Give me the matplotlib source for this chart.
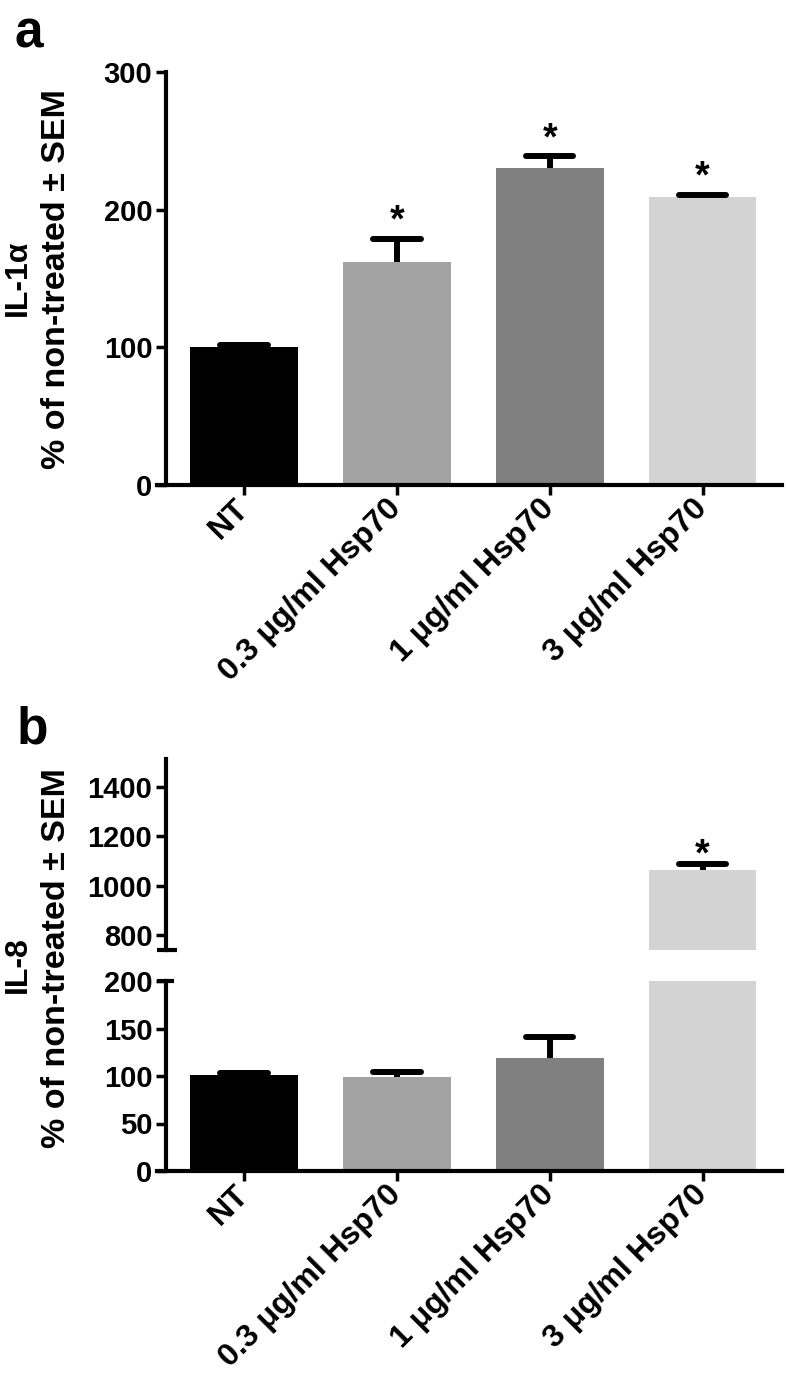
import numpy as np
import matplotlib
matplotlib.use("Agg")
import matplotlib.pyplot as plt

plt.rcParams['font.family'] = ['Liberation Sans', 'DejaVu Sans']
plt.rcParams['font.weight'] = 'bold'

groups = ["NT", "0.3 μg/ml Hsp70", "1 μg/ml Hsp70", "3 μg/ml Hsp70"]
colors = ["#000000", "#a3a3a3", "#808080", "#d3d3d3"]

# panel a: IL-1alpha
il1a_mean = [100, 162, 230, 209]
il1a_sem = [2, 17, 9, 2]
il1a_sig = [False, True, True, True]

# panel b: IL-8 (broken axis)
il8_mean = [101, 99, 119, 1063]
il8_sem = [2, 5, 22, 25]
il8_sig = [False, False, False, True]

W, H = 786, 1380
fig = plt.figure(figsize=(W / 100, H / 100), dpi=100)
x = np.arange(len(groups))


def px_axes(left, top, right, bottom):
    return fig.add_axes([left / W, 1 - bottom / H, (right - left) / W, (bottom - top) / H])


def style(ax, show_x=True):
    ax.set_xlim(-0.57, 3.52)
    for s in ['top', 'right']:
        ax.spines[s].set_visible(False)
    ax.spines['left'].set_position(('data', -0.51))
    ax.spines['left'].set_linewidth(3)
    ax.spines['bottom'].set_linewidth(3)
    ax.tick_params(axis='both', width=2.5, length=7, direction='out', labelsize=21, pad=3)
    if show_x:
        ax.set_xticks(x)
        ax.set_xticklabels(groups, rotation=45, ha='right', va='center',
                           rotation_mode='anchor', fontsize=23)
        ax.tick_params(axis='x', pad=7)
    else:
        ax.spines['bottom'].set_visible(False)
        ax.set_xticks([])


def draw_bars(ax, mean, sem):
    ax.bar(x, mean, width=0.706, color=colors, zorder=2)
    tops = np.array(mean) + np.array(sem)
    ax.vlines(x, mean, tops, colors='k', lw=4.3, capstyle='butt', zorder=3)
    ax.hlines(tops, x - 0.155, x + 0.155, colors='k', lw=4.3, capstyle='round', zorder=3)


def draw_stars(ax, mean, sem, sig, off):
    for i in range(len(groups)):
        if sig[i]:
            ax.annotate('*', (x[i], mean[i] + sem[i]), xytext=(0, off),
                        textcoords='offset points', ha='center', va='baseline',
                        fontsize=27)


# ---- panel a ----
ax_a = px_axes(157, 72, 782, 485)
draw_bars(ax_a, il1a_mean, il1a_sem)
style(ax_a)
ax_a.set_ylim(0, 300)
ax_a.set_yticks([0, 100, 200, 300])
draw_stars(ax_a, il1a_mean, il1a_sem, il1a_sig, 5)

fig.text(15 / W, 1 - 47 / H, 'a', fontsize=37, va='baseline')
fig.text(18 / W, 1 - 278 / H, 'IL-1α', rotation=90, ha='center', va='center', fontsize=23)
fig.text(57 / W, 1 - 279 / H, '% of non-treated ± SEM', rotation=90, ha='center',
         va='center', fontsize=24.5)

# ---- panel b ----
ax_bu = px_axes(157, 759, 782, 950)
draw_bars(ax_bu, il8_mean, il8_sem)
style(ax_bu, show_x=False)
ax_bu.set_ylim(739, 1512)
ax_bu.set_yticks([800, 1000, 1200, 1400])
draw_stars(ax_bu, il8_mean, il8_sem, il8_sig, -1)
ax_bu.plot([-0.57, -0.44], [739, 739], color='k', lw=3, clip_on=False,
           solid_capstyle='butt')

ax_bl = px_axes(157, 981, 782, 1171)
draw_bars(ax_bl, il8_mean, il8_sem)
style(ax_bl)
ax_bl.set_ylim(0, 200)
ax_bl.set_yticks([0, 50, 100, 150, 200])
ax_bl.plot([-0.57, -0.46], [200, 200], color='k', lw=3, clip_on=False,
           solid_capstyle='butt')

fig.text(17 / W, 1 - 743 / H, 'b', fontsize=37, va='baseline')
fig.text(18 / W, 1 - 965 / H, 'IL-8', rotation=90, ha='center', va='center', fontsize=23)
fig.text(57 / W, 1 - 958 / H, '% of non-treated ± SEM', rotation=90, ha='center',
         va='center', fontsize=24.5)

fig.savefig('out.png', dpi=100)
